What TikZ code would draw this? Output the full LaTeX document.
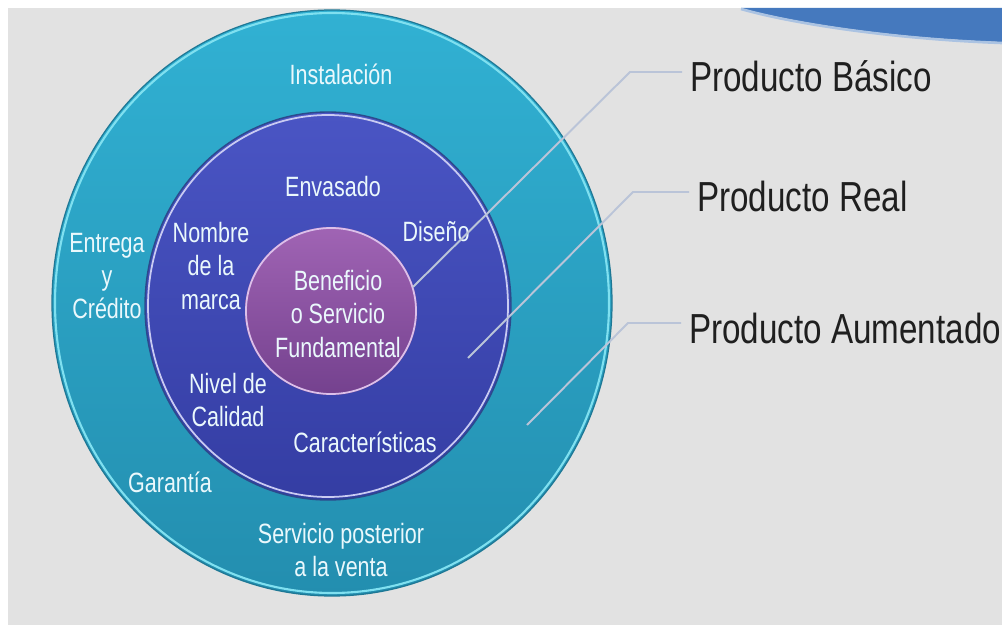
\documentclass[tikz,border=0pt]{standalone}
\usepackage{fontspec}
\setmainfont{Liberation Sans}
\newfontfamily\estrecha{Liberation Sans}[FakeStretch=0.77]
\newfontfamily\rotfuente{Liberation Sans}[FakeStretch=0.79]
\usetikzlibrary{positioning}

\definecolor{fondo}{HTML}{E2E2E2}
\definecolor{azulesq}{HTML}{4579BE}
\definecolor{turquesa}{HTML}{31B1D3}
\definecolor{turquesaosc}{HTML}{238EAF}
\definecolor{bordeturq}{HTML}{1E7895}
\definecolor{brillo}{HTML}{7FE0F0}
\definecolor{azulreal}{HTML}{4A55C4}
\definecolor{azulosc}{HTML}{343DA3}
\definecolor{bordeazul}{HTML}{2C4A8C}
\definecolor{lila}{HTML}{C9CBF2}
\definecolor{morado}{HTML}{A064B4}
\definecolor{moradoosc}{HTML}{74418E}
\definecolor{rosado}{HTML}{DCC0EA}
\definecolor{guiacol}{HTML}{BAC4D8}
\definecolor{textoclaro}{HTML}{EAF8FC}

\begin{document}
\begin{tikzpicture}[x=0.02cm, y=-0.02cm,
        txt/.style={text=textoclaro, font=\estrecha\fontsize{15.9}{18.8}\selectfont, align=center, inner sep=0pt},
        rotulo/.style={text=black!88, font=\rotfuente\fontsize{23.9}{28}\selectfont, anchor=base west,
            inner xsep=0.16cm, inner ysep=0pt, text height=0.8cm, text depth=0pt},
        guia/.style={draw=guiacol, line width=1.1pt}]
        \useasboundingbox (0,0) rectangle (1002,625);

        % Fondo gris y forma azul de la esquina
        \fill[white] (0,0) rectangle (1002,625);
        \fill[fondo] (8,8) rectangle (1002,625);
        \fill[azulesq] (741,8) .. controls (790,22) and (890,38) .. (1002,42) -- (1002,8) -- cycle;
        \draw[azulesq!45!white, line width=1.5pt] (741,9) .. controls (790,23) and (890,39) .. (1002,43);

        % Anillo exterior (producto aumentado)
        \shade[top color=turquesa, bottom color=turquesaosc] (332,303) ellipse [x radius=280, y radius=293];
        \draw[bordeturq, line width=0.7pt] (332,303) ellipse [x radius=280, y radius=293];
        \draw[brillo, line width=1.2pt] (332,303) ellipse [x radius=277, y radius=290];

        % Anillo medio (producto real)
        \shade[top color=azulreal, bottom color=azulosc] (328,306) ellipse [x radius=183, y radius=194];
        \draw[bordeazul, line width=0.8pt] (328,306) ellipse [x radius=183, y radius=194];
        \draw[lila, line width=1pt] (328,306) ellipse [x radius=180, y radius=191];

        % Centro (producto basico)
        \shade[top color=morado, bottom color=moradoosc] (331,311) ellipse [x radius=86, y radius=84];
        \draw[rosado, line width=1pt] (331,311) ellipse [x radius=85, y radius=83];

        % Textos del anillo exterior
        \node[txt, anchor=base] (instalacion) at (341,85) {Instalación};
        \node[txt] (entrega) at (107,276) {Entrega\\y\\Crédito};
        \node[txt, anchor=base] (garantia) at (170,492) {Garantía};
        \node[txt] (posventa) at (341,550) {Servicio posterior\\a la venta};

        % Textos del anillo medio
        \node[txt, anchor=base] (envasado) at (333,196) {Envasado};
        \node[txt, anchor=base] (diseno) at (436,242) {Diseño};
        \node[txt] (marca) at (211,266) {Nombre\\de la\\marca};
        \node[txt] (calidad) at (228,400) {Nivel de\\Calidad};
        \node[txt, anchor=base] (caract) at (365,452) {Características};

        % Texto del centro
        \node[txt] (beneficio) at (338,314) {Beneficio\\o Servicio\\Fundamental};

        % Rotulos de la derecha
        \node[rotulo] (basico) at (682,92) {Producto Básico};
        \node[rotulo] (real) at (689,212) {Producto Real};
        \node[rotulo] (aumentado) at (681,343) {Producto Aumentado};

        % Lineas guia hacia cada nivel
        \coordinate (cb) at (630,0 |- basico.west);
        \coordinate (cr) at (633,0 |- real.west);
        \coordinate (ca) at (628,0 |- aumentado.west);
        \coordinate (fb) at (413,287);
        \coordinate (fr) at (468,358);
        \coordinate (fa) at (527,425);
        \draw[guia] (basico.west) -- (cb) -- (fb);
        \draw[guia] (real.west) -- (cr) -- (fr);
        \draw[guia] (aumentado.west) -- (ca) -- (fa);

    \end{tikzpicture}
\end{document}
